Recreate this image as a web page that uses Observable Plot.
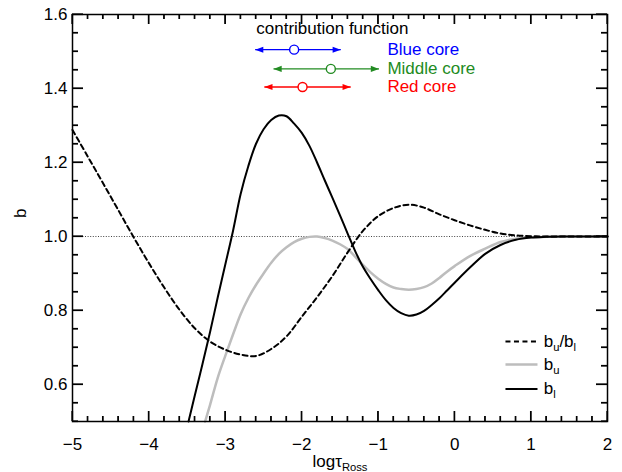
<!DOCTYPE html>
<html>
<head>
<meta charset="utf-8">
<script src="https://cdn.jsdelivr.net/npm/d3@7"></script>
<script src="https://cdn.jsdelivr.net/npm/@observablehq/plot@0.6"></script>
<style>
  html, body { margin: 0; padding: 0; background: #fff; }
  #chart { position: relative; width: 622px; height: 472px; }
  #ticks { position: absolute; left: 0; top: 0; pointer-events: none; }
</style>
</head>
<body>
<div id="chart"></div>
<script>
// ---- Data ----
// b_u / b_l (dashed)
const ratioX = [-5.0, -4.8, -4.6, -4.4, -4.2, -4.0, -3.8, -3.6, -3.4, -3.2, -3.0, -2.8, -2.6, -2.4, -2.2, -2.0, -1.8, -1.6, -1.4, -1.2, -1.0, -0.8, -0.6, -0.4, -0.2, 0.0, 0.2, 0.4, 0.6, 0.8, 1.0, 1.2, 1.6, 2.0];
const ratioY = [1.288, 1.216, 1.144, 1.071, 0.998, 0.928, 0.862, 0.802, 0.752, 0.716, 0.694, 0.681, 0.677, 0.696, 0.730, 0.783, 0.836, 0.893, 0.957, 1.015, 1.055, 1.077, 1.086, 1.078, 1.060, 1.044, 1.030, 1.018, 1.008, 1.003, 1.001, 1.0, 1.0, 1.0];

// b_l (black solid), starting where it leaves the bottom edge
const blX = [-3.482, -3.4, -3.3, -3.2, -3.1, -3.0, -2.9, -2.8, -2.7, -2.6, -2.5, -2.4, -2.3, -2.2, -2.1, -2.0, -1.9, -1.8, -1.7, -1.6, -1.5, -1.4, -1.3, -1.2, -1.1, -1.0, -0.9, -0.8, -0.7, -0.6, -0.5, -0.4, -0.3, -0.2, -0.1, 0.0, 0.2, 0.4, 0.6, 0.8, 1.0, 1.2, 1.4, 2.0];
const blY = [0.50, 0.57, 0.655, 0.742, 0.835, 0.925, 1.015, 1.115, 1.190, 1.250, 1.290, 1.315, 1.327, 1.325, 1.305, 1.280, 1.245, 1.200, 1.152, 1.105, 1.057, 1.008, 0.960, 0.918, 0.885, 0.855, 0.828, 0.807, 0.793, 0.786, 0.789, 0.799, 0.815, 0.833, 0.854, 0.875, 0.916, 0.953, 0.977, 0.991, 0.997, 0.999, 1.0, 1.0];

// b_u (grey solid), starting where it leaves the bottom edge
const buX = [-3.265, -3.2, -3.1, -3.0, -2.9, -2.8, -2.7, -2.6, -2.5, -2.4, -2.3, -2.2, -2.1, -2.0, -1.9, -1.8, -1.7, -1.6, -1.5, -1.4, -1.3, -1.2, -1.1, -1.0, -0.9, -0.8, -0.7, -0.6, -0.5, -0.4, -0.3, -0.2, -0.1, 0.0, 0.2, 0.4, 0.6, 0.8, 1.0, 1.2, 1.4, 2.0];
const buY = [0.50, 0.545, 0.618, 0.678, 0.735, 0.790, 0.833, 0.869, 0.900, 0.929, 0.953, 0.971, 0.985, 0.994, 0.999, 1.0, 0.996, 0.989, 0.979, 0.966, 0.945, 0.923, 0.903, 0.886, 0.872, 0.862, 0.858, 0.856, 0.858, 0.863, 0.873, 0.888, 0.905, 0.920, 0.947, 0.967, 0.985, 0.994, 0.998, 0.999, 1.0, 1.0];

// contribution function ranges
const cfLabels = ["Blue core", "Middle core", "Red core"];
const cfColors = ["#0000ff", "#228b22", "#ff0000"];
const cfLo   = [-2.61, -2.37, -2.49];
const cfHi   = [-1.49, -0.99, -1.36];
const cfPeak = [-2.10, -1.62, -1.99];
const cfLevel = [1.505, 1.453, 1.404];

// axis ticks
const xMajor = [-5, -4, -3, -2, -1, 0, 1, 2];
const yMajor = [0.6, 0.8, 1.0, 1.2, 1.4, 1.6];
const legendLabels = ["b_u/b_l", "b_u", "b_l"];

// ---- Layout ----
const W = 622, H = 472;
const mL = 72, mR = 15, mT = 14, mB = 51;
const fw = W - mL - mR, fh = H - mT - mB;
const xDom = [-5, 2], yDom = [0.5, 1.6];

const xMinor = d3.range(0, 36).map(k => +(-5 + k * 0.2).toFixed(2)).filter(v => Math.abs(v - Math.round(v)) > 1e-6);
const yMinor = d3.range(0, 23).map(k => +(0.5 + k * 0.05).toFixed(2)).filter(v => Math.abs(v * 5 - Math.round(v * 5)) > 1e-6);

const rows = (xs, ys) => xs.map((x, i) => ({x, y: ys[i]}));
const cfRows = cfLabels.map((label, i) => ({label, color: cfColors[i], lo: cfLo[i], hi: cfHi[i], peak: cfPeak[i], y: cfLevel[i]}));

const headRight = {draw(ctx, size) { const L = Math.sqrt(size); ctx.moveTo(0, 0); ctx.lineTo(-L, -L * 0.37); ctx.lineTo(-L, L * 0.37); ctx.closePath(); }};
const headLeft  = {draw(ctx, size) { const L = Math.sqrt(size); ctx.moveTo(0, 0); ctx.lineTo(L, -L * 0.37); ctx.lineTo(L, L * 0.37); ctx.closePath(); }};

// annotation anchors (data units)
const cfTitleX = -1.60, cfTitleY = 1.546, cfTextX = -0.88;
const legX1 = 0.665, legX2 = 1.084, legTextX = 1.165;
const legY = [0.716, 0.654, 0.588];
const legendRows = legendLabels.map((t, i) => ({t, y: legY[i]}));

const chart = Plot.plot({
  width: W, height: H,
  marginLeft: mL, marginRight: mR, marginTop: mT, marginBottom: mB,
  style: {fontFamily: "'Liberation Sans', Arial, Helvetica, sans-serif", fontSize: "17px", background: "white", color: "black"},
  x: {domain: xDom, label: null},
  y: {domain: yDom, label: null},
  color: {type: "identity"},
  marks: [
    Plot.ruleY([1], {stroke: "#444", strokeWidth: 1, strokeDasharray: "1,1.6"}),
    Plot.line(rows(buX, buY), {x: "x", y: "y", stroke: "#bdbdbd", strokeWidth: 2.5, curve: "catmull-rom"}),
    Plot.line(rows(blX, blY), {x: "x", y: "y", stroke: "black", strokeWidth: 2, curve: "catmull-rom"}),
    Plot.line(rows(ratioX, ratioY), {x: "x", y: "y", stroke: "black", strokeWidth: 2, strokeDasharray: "5,3.5", curve: "catmull-rom"}),

    // contribution function annotation
    Plot.text(["contribution function"], {x: () => cfTitleX, y: () => cfTitleY, text: d => d, lineAnchor: "bottom", fontSize: 17, fill: "black"}),
    Plot.link(cfRows, {x1: "lo", x2: "hi", y1: "y", y2: "y", stroke: "color", strokeWidth: 1.3}),
    Plot.dot(cfRows, {x: "hi", y: "y", symbol: headRight, r: 4.6, fill: "color", stroke: null}),
    Plot.dot(cfRows, {x: "lo", y: "y", symbol: headLeft, r: 4.6, fill: "color", stroke: null}),
    Plot.dot(cfRows, {x: "peak", y: "y", r: 4.5, stroke: "color", fill: "white", strokeWidth: 1.4}),
    Plot.text(cfRows, {x: () => cfTextX, y: "y", text: "label", fill: "color", textAnchor: "start", fontSize: 17}),

    // legend
    Plot.link([legendRows[0]], {x1: () => legX1, x2: () => legX2, y1: "y", y2: "y", stroke: "black", strokeWidth: 2, strokeDasharray: "5,3.5"}),
    Plot.link([legendRows[1]], {x1: () => legX1, x2: () => legX2, y1: "y", y2: "y", stroke: "#bdbdbd", strokeWidth: 2.5}),
    Plot.link([legendRows[2]], {x1: () => legX1, x2: () => legX2, y1: "y", y2: "y", stroke: "black", strokeWidth: 2}),
    Plot.text(legendRows, {x: () => legTextX, y: "y", text: "t", textAnchor: "start", fontSize: 17, fill: "black"}),

    Plot.axisX(xMajor, {anchor: "bottom", tickSize: 0, tickPadding: 16, tickFormat: d3.format("d"), label: null, fontSize: 17}),
    Plot.axisY(yMajor, {anchor: "left", tickSize: 0, tickPadding: 5, tickFormat: d3.format(".1f"), label: null, fontSize: 17}),

    Plot.text(["logτ_Ross"], {frameAnchor: "bottom", dy: 45, lineAnchor: "bottom", text: d => d, fontSize: 17, fill: "black"}),
    Plot.text(["b"], {frameAnchor: "left", dx: -52, rotate: -90, text: d => d, fontSize: 17, fill: "black"}),

    Plot.frame({stroke: "black", strokeWidth: 1.5}),

    // inward ticks on all four sides
    Plot.tickX(xMajor, {x: d => d, insetTop: fh - 10, stroke: "black", strokeWidth: 1.2}),
    Plot.tickX(xMajor, {x: d => d, insetBottom: fh - 10, stroke: "black", strokeWidth: 1.2}),
    Plot.tickX(xMinor, {x: d => d, insetTop: fh - 5, stroke: "black", strokeWidth: 1.2}),
    Plot.tickX(xMinor, {x: d => d, insetBottom: fh - 5, stroke: "black", strokeWidth: 1.2}),
    Plot.tickY(yMajor, {y: d => d, insetRight: fw - 11, stroke: "black", strokeWidth: 1.2}),
    Plot.tickY(yMajor, {y: d => d, insetLeft: fw - 11, stroke: "black", strokeWidth: 1.2}),
    Plot.tickY(yMinor, {y: d => d, insetRight: fw - 6, stroke: "black", strokeWidth: 1.2}),
    Plot.tickY(yMinor, {y: d => d, insetLeft: fw - 6, stroke: "black", strokeWidth: 1.2})
  ]
});

const holder = document.getElementById("chart");
holder.appendChild(chart);

// subscripts: "a_b" -> a with subscript b
try {
  d3.select(chart).selectAll("text").each(function() {
    const t = this.textContent;
    if (!t.includes("_") || this.children.length > 0) return;
    const sel = d3.select(this);
    sel.text(null);
    const parts = t.split(/_(\w+)/);
    let shifted = false;
    parts.forEach((p, i) => {
      if (!p) return;
      const ts = sel.append("tspan").text(p);
      if (i % 2) { ts.attr("dy", 4).attr("font-size", "0.66em"); shifted = true; }
      else if (shifted) { ts.attr("dy", -4); shifted = false; }
    });
  });
} catch (e) { console.error(e); }

// the same inward ticks, also on an overlay positioned with the plot's own scales
try {
  const sx = chart.scale("x"), sy = chart.scale("y");
  const fLeft = sx.apply(xDom[0]), fRight = sx.apply(xDom[1]);
  const fBottom = sy.apply(yDom[0]), fTop = sy.apply(yDom[1]);
  const ov = d3.select(holder).append("svg").attr("id", "ticks").attr("width", W).attr("height", H).attr("viewBox", `0 0 ${W} ${H}`);
  const tg = ov.append("g").attr("fill", "black");
  const vTick = (px, y0, len) => tg.append("rect").attr("x", px - 0.6).attr("width", 1.2).attr("y", Math.min(y0, y0 + len)).attr("height", Math.abs(len));
  const hTick = (py, x0, len) => tg.append("rect").attr("y", py - 0.6).attr("height", 1.2).attr("x", Math.min(x0, x0 + len)).attr("width", Math.abs(len));
  for (const [vals, len] of [[xMajor, 10], [xMinor, 5]]) {
    for (const v of vals) {
      const px = sx.apply(v);
      vTick(px, fBottom, -len);
      vTick(px, fTop, len);
    }
  }
  for (const [vals, len] of [[yMajor, 11], [yMinor, 6]]) {
    for (const v of vals) {
      const py = sy.apply(v);
      hTick(py, fLeft, len);
      hTick(py, fRight, -len);
    }
  }
} catch (e) { console.error(e); }
</script>
</body>
</html>
